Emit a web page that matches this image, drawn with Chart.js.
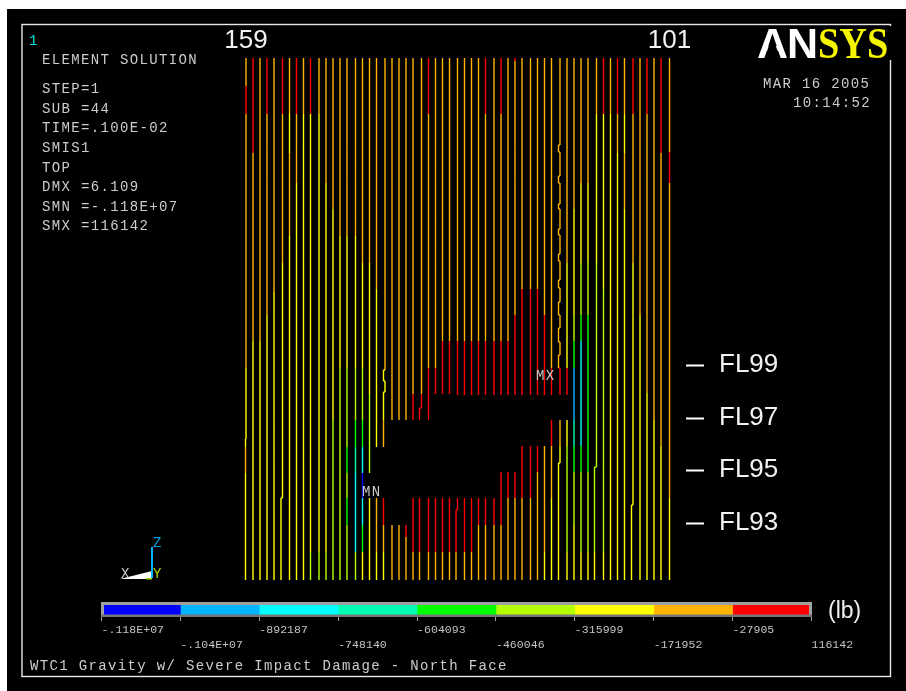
<!DOCTYPE html>
<html>
<head>
<meta charset="utf-8">
<title>WTC1 Gravity w/ Severe Impact Damage - North Face</title>
<script src="https://cdn.jsdelivr.net/npm/chart.js@4"></script>
<style>
html,body{margin:0;padding:0;background:#fff;width:906px;height:691px;overflow:hidden}
canvas{position:absolute;left:0;display:block}
#main{top:0}
#bar{top:590px}
</style>
</head>
<body>
<canvas id="main" width="906" height="691"></canvas>
<canvas id="bar" width="906" height="70"></canvas>
<script>
// ---- contour bands (low to high) ----
const bandNames = ['-.118E+07','-.104E+07','-892187','-748140','-604093','-460046','-315999','-171952','-27905'];
const bandColors = ['#0000ff','#00b4ff','#00ffff','#00ffb4','#00ff00','#b4ff00','#ffff00','#ffb400','#ff0000'];
const bandBreaks = [-1180281,-1036234,-892187,-748140,-604093,-460046,-315999,-171952,-27905,116142];
const bandLabels = ['-.118E+07','-.104E+07','-892187','-748140','-604093','-460046','-315999','-171952','-27905','116142'];
const B=0,S=1,C=2,T=3,G=4,L=5,Y=6,O=7,R=8,_=-1;

// ---- position of each column along the face, from column 159 to column 101 ----
const columnX = [
  0,7,14,21,28, 36.5,43.5,50.5,57.5,64.5, 73,80,87,94,101, 109.5,116.5,123.5,130.5,139,
  146,153,160,167, 175.5,182.5,189.5,196.5,203.5, 211.5,218.5,225.5,232.5,239.5,
  248,255,262,269,276, 284.5,291.5,298.5,305.5,314, 321,328,335,342,
  350.5,357.5,364.5,371.5,378.5, 387,394,401,408,415, 423.5
];
// column, top height, bottom height, shifted position
const columnShifts = [
  [0,142,1,-0.5],[5,83,1,35],[19,211,200,137.5],[19,189,1,137.5],[24,173,1,173.5],[29,71,1,210],
  [43,436,429,312.5],[43,405,398,312.5],[43,377,372,312.5],[43,352,346,312.5],[43,327,320,312.5],
  [43,301,293,312.5],[43,279,266,312.5],[43,253,239,312.5],[43,226,213,312.5],[43,118,1,312.5],
  [48,114,1,348.5],[53,76,1,385.5]
];
// each column from its top: height, band, height, band, ... , height
const columnBands = [
  [523,O,495,R,467,O,213,Y,134,O,108,Y,1],
  [523,R,428,O,240,Y,1],
  [523,O,240,Y,1],
  [523,R,467,O,266,Y,1],
  [523,O,289,Y,1],
  [523,R,467,O,318,Y,1],
  [523,O,467,Y,428,O,345,Y,1],
  [523,R,467,O,398,Y,1],
  [523,O,467,Y,1],
  [523,R,467,Y,29,L,1],
  [523,O,467,Y,29,L,1],
  [523,O,398,Y,29,L,1],
  [523,O,372,Y,161,L,1],
  [523,O,345,Y,213,L,1],
  [523,O,345,Y,213,L,134,G,108,L,83,G,56,L,1],
  [523,O,345,Y,213,L,161,G,134,T,108,C,29,L,1],
  [523,O,318,Y,213,L,161,G,134,C,108,B,83,C,56,G,29,Y,1],
  [523,O,318,Y,187,L,108,_,83,Y,1],
  [523,O,292,Y,134,_,83,O,29,Y,1],
  [523,O,211,Y,161,O,134,_,83,R,56,O,29,Y,1],
  [523,O,161,_,56,O,1],
  [523,O,161,_,56,O,1],
  [523,O,161,_,56,R,44,O,1],
  [523,O,187,R,161,_,83,R,29,O,1],
  [523,O,187,R,161,_,83,R,29,O,1],
  [523,R,467,O,213,R,161,_,83,R,29,O,1],
  [523,O,213,R,187,_,83,R,29,O,1],
  [523,O,240,R,187,_,83,R,29,O,1],
  [523,O,240,R,187,_,83,R,29,O,1],
  [523,O,240,R,186,_,83,R,29,O,1],
  [523,O,240,R,186,_,83,R,29,O,1],
  [523,O,240,R,186,_,83,R,29,O,1],
  [523,O,240,R,186,_,83,R,56,O,1],
  [523,R,467,O,240,R,186,_,83,R,56,O,1],
  [523,O,240,R,186,_,83,R,56,O,1],
  [523,R,467,O,240,R,186,_,109,R,56,O,1],
  [523,O,240,R,186,_,109,R,83,O,1],
  [523,R,520,O,266,R,186,_,109,R,83,O,1],
  [523,O,292,R,186,_,135,R,83,O,1],
  [523,O,292,R,186,_,135,R,83,O,1],
  [523,O,292,R,186,_,135,R,109,O,1],
  [523,O,266,R,186,_,135,O,29,Y,1],
  [523,O,213,R,186,_,161,R,135,O,83,Y,1],
  [523,O,213,R,186,_,161,O,135,Y,1],
  [523,O,318,Y,213,R,186,_,161,Y,135,L,29,Y,1],
  [523,O,372,Y,266,L,240,G,213,S,161,T,135,G,109,L,56,Y,1],
  [523,O,398,Y,318,L,266,G,240,C,135,G,109,L,29,Y,1],
  [523,O,398,Y,318,L,266,G,109,L,29,Y,1],
  [523,O,467,Y,318,L,29,Y,1],
  [523,R,467,Y,292,L,29,Y,1],
  [523,O,467,Y,1],
  [523,R,467,O,428,Y,1],
  [523,O,467,Y,428,O,372,Y,1],
  [523,R,467,O,318,Y,1],
  [523,O,266,Y,1],
  [523,R,467,O,188,Y,1],
  [523,O,161,Y,1],
  [523,R,428,O,135,Y,1],
  [523,O,429,R,398,O,83,Y,1]
];

// ---- axis labels ----
const columnTickValues = [0, 423.5];
const columnTickLabels = ['159', '101'];
const floorHeights = [216, 163, 111, 58];
const floorLabels = ['FL99', 'FL97', 'FL95', 'FL93'];

// ---- text of the plot ----
const infoLines = ['ELEMENT SOLUTION','STEP=1','SUB =44','TIME=.100E-02','SMIS1','TOP','DMX =6.109','SMN =-.118E+07','SMX =116142'];
const infoBaselines = [64,93,113,132,152,172,191,211,230];
const footerText = 'WTC1 Gravity w/ Severe Impact Damage - North Face';

// ---- build one line dataset per band from the column table ----
function shiftedX(col, top, bottom) {
  for (const s of columnShifts) if (s[0] === col && top <= s[1] && bottom >= s[2]) return s[3];
  return columnX[col];
}
const series = bandColors.map(() => []);
columnBands.forEach((bands, col) => {
  const cuts = new Set();
  for (let i = 0; i < bands.length; i += 2) cuts.add(bands[i]);
  columnShifts.filter(s => s[0] === col).forEach(s => { cuts.add(s[1]); cuts.add(s[2]); });
  const hs = [...cuts].sort((a, b) => b - a);
  let prevX = null;
  for (let i = 0; i < hs.length - 1; i++) {
    const top = hs[i], bottom = hs[i + 1];
    let band = _;
    for (let j = 0; j + 2 < bands.length; j += 2) if (top <= bands[j] && bottom >= bands[j + 2]) band = bands[j + 1];
    if (band === _) { continue; }
    const x = shiftedX(col, top, bottom);
    if (prevX !== null && prevX !== x) {
      series[band].push({x: prevX, y: top}, {x: x, y: top}, {x: x, y: null});
    }
    series[band].push({x: x, y: top}, {x: x, y: bottom}, {x: x, y: null});
    prevX = x;
  }
});

const mono = '"Liberation Mono", monospace';
const backdrop = {
  id: 'backdrop',
  beforeDraw(chart) {
    const c = chart.ctx;
    c.save();
    c.fillStyle = '#fff'; c.fillRect(0, 0, 906, 691);
    c.fillStyle = '#000'; c.fillRect(7, 9, 899, 682);
    c.strokeStyle = '#e8e8e8'; c.lineWidth = 1.4;
    c.strokeRect(22, 24.5, 868.5, 652);
    c.restore();
  },
  afterDraw(chart) {
    const c = chart.ctx;
    c.save();
    c.textBaseline = 'alphabetic'; c.textAlign = 'left';
    c.font = '14px ' + mono; c.letterSpacing = '1.35px'; c.fillStyle = '#cccccc';
    infoLines.forEach((t, i) => c.fillText(t, 42, infoBaselines[i]));
    c.fillText('MAR 16 2005', 763, 88);
    c.fillText('10:14:52', 793, 107);
    c.fillText(footerText, 30, 670);
    c.fillText('MX', 536, 380);
    c.fillText('MN', 362, 496);
    c.fillStyle = '#00e0e0'; c.fillText('1', 29, 45);
    // triad
    c.fillStyle = '#fff';
    c.beginPath(); c.moveTo(120, 579); c.lineTo(152, 571); c.lineTo(152, 579); c.closePath(); c.fill();
    c.fillStyle = '#a0e000'; c.fillRect(146, 578, 6, 1.5);
    c.strokeStyle = '#00b4ff'; c.lineWidth = 2;
    c.beginPath(); c.moveTo(152, 547); c.lineTo(152, 578); c.stroke();
    c.fillStyle = '#00a0e0'; c.fillText('Z', 153, 547);
    c.fillStyle = '#b4d800'; c.fillText('Y', 153, 578);
    c.fillStyle = '#c8c8c8'; c.fillText('X', 121, 578);
    c.letterSpacing = '0px';
    // logo
    c.fillStyle = '#000'; c.fillRect(755, 26, 137, 34);
    c.fillStyle = '#fff'; c.font = 'bold 43px "Liberation Sans", sans-serif';
    c.letterSpacing = '-1px';
    c.fillText('AN', 757, 58);
    c.letterSpacing = '0px';
    c.fillStyle = '#000';
    c.beginPath(); c.moveTo(772, 35); c.lineTo(765, 58); c.lineTo(780, 58); c.closePath(); c.fill();
    c.save();
    c.translate(818, 58); c.scale(0.87, 1);
    c.fillStyle = '#f5f500'; c.font = 'bold 44px "Liberation Serif", serif';
    c.fillText('SYS', 0, 0);
    c.restore();
    // unit of the colour bar
    c.fillStyle = '#f0f0f0'; c.font = '23px "Liberation Sans", sans-serif';
    c.fillText('(lb)', 828, 618);
    c.restore();
  }
};

new Chart(document.getElementById('main'), {
  type: 'line',
  data: {
    datasets: series.map((pts, i) => ({
      label: bandNames[i],
      data: pts,
      borderColor: bandColors[i],
      borderWidth: 1.4,
      pointRadius: 0,
      tension: 0,
      spanGaps: false,
      fill: false
    }))
  },
  options: {
    responsive: false,
    animation: false,
    events: [],
    layout: {padding: {left: 240, right: 0, top: 0, bottom: 110}},
    plugins: {legend: {display: false}, tooltip: {enabled: false}, title: {display: false}},
    scales: {
      x: {
        type: 'linear', position: 'top', min: -6, max: 440,
        grid: {display: false, drawTicks: false}, border: {display: false},
        afterBuildTicks(s) { s.ticks = columnTickValues.map(v => ({value: v})); },
        afterFit(s) { s.height = 58; },
        ticks: {
          autoSkip: false, maxRotation: 0, padding: 2, color: '#f2f2f2',
          font: {family: '"Liberation Sans", sans-serif', size: 26},
          callback: v => columnTickLabels[columnTickValues.indexOf(v)]
        }
      },
      y: {
        type: 'linear', position: 'right', min: 0, max: 523,
        border: {display: false},
        grid: {drawOnChartArea: false, drawTicks: true, tickLength: 18, tickColor: '#fff', tickWidth: 2},
        afterBuildTicks(s) { s.ticks = floorHeights.map(v => ({value: v})); },
        afterFit(s) { s.width = 220; },
        ticks: {
          autoSkip: false, padding: 15, color: '#f2f2f2',
          font: {family: '"Liberation Sans", sans-serif', size: 26},
          callback: v => floorLabels[floorHeights.indexOf(v)]
        }
      }
    }
  },
  plugins: [backdrop]
});

// ---- colour bar ----
const barFrame = {
  id: 'barFrame',
  afterDraw(chart) {
    const c = chart.ctx, a = chart.chartArea, xs = chart.scales.x;
    c.save();
    const l = Math.floor(a.left), r = Math.ceil(a.right);
    c.fillStyle = '#a0a0a0';
    c.fillRect(l, a.top, r - l, 3);
    c.fillRect(l, a.top, 3, a.bottom - a.top);
    c.fillRect(r - 3, a.top, 3, a.bottom - a.top);
    c.fillStyle = '#777';
    c.fillRect(l, a.bottom - 2.5, r - l, 2.5);
    c.font = '11.5px ' + mono; c.letterSpacing = '0.05px'; c.fillStyle = '#c4c4c4';
    c.textAlign = 'left'; c.textBaseline = 'alphabetic';
    bandBreaks.forEach((v, i) => {
      c.fillText(bandLabels[i], xs.getPixelForValue(v), i % 2 ? 58 : 43);
    });
    c.restore();
  }
};
new Chart(document.getElementById('bar'), {
  type: 'bar',
  data: {
    labels: ['band'],
    datasets: bandColors.map((col, i) => ({
      label: bandNames[i],
      data: [[bandBreaks[i], bandBreaks[i + 1]]],
      backgroundColor: col,
      borderWidth: 0,
      grouped: false,
      barPercentage: 1,
      categoryPercentage: 1
    }))
  },
  options: {
    indexAxis: 'y',
    responsive: false,
    animation: false,
    events: [],
    layout: {padding: {left: 101.5, right: 94.5, top: 12, bottom: 0}},
    plugins: {legend: {display: false}, tooltip: {enabled: false}},
    scales: {
      y: {display: false},
      x: {
        type: 'linear', min: bandBreaks[0], max: bandBreaks[9], position: 'bottom',
        border: {display: false},
        grid: {drawOnChartArea: false, drawTicks: true, tickLength: 4, tickColor: '#a0a0a0', tickWidth: 1},
        afterBuildTicks(s) { s.ticks = bandBreaks.map(v => ({value: v})); },
        afterFit(s) { s.height = 43; },
        ticks: {display: false}
      }
    }
  },
  plugins: [barFrame]
});
</script>
</body>
</html>
